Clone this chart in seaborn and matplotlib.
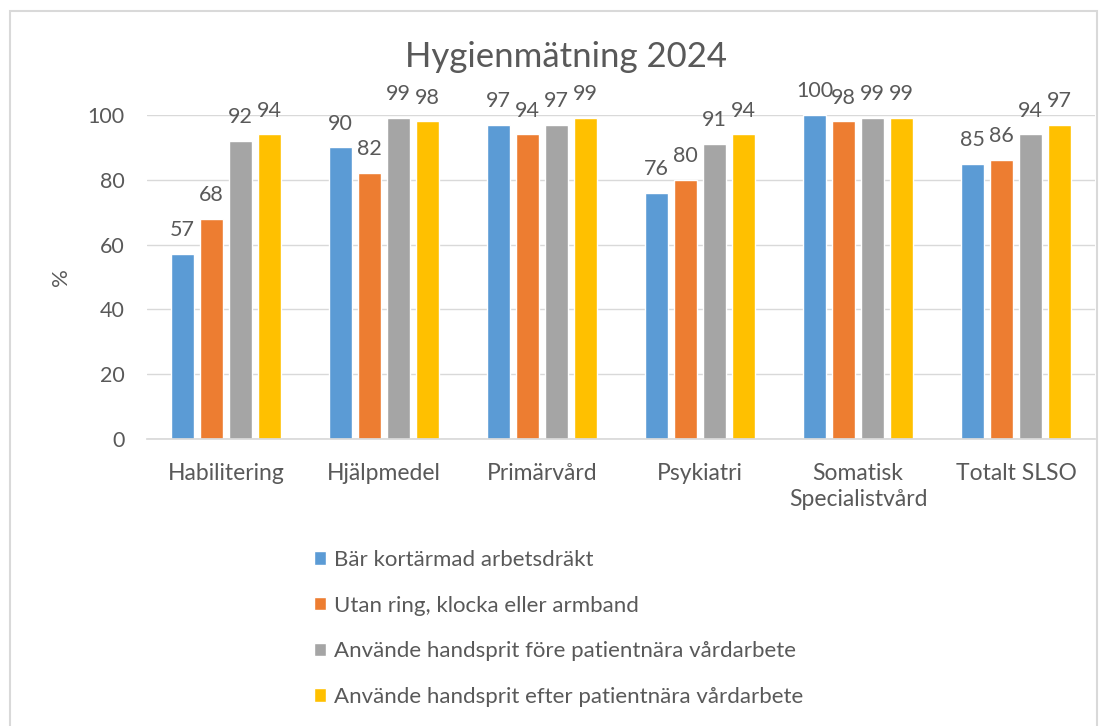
import matplotlib
matplotlib.use("Agg")
import matplotlib.pyplot as plt
import seaborn as sns
import pandas as pd
from matplotlib.patches import Rectangle

categories = ["Habilitering", "Hjälpmedel", "Primärvård", "Psykiatri",
              "Somatisk\nSpecialistvård", "Totalt SLSO"]
series = ["Bär kortärmad arbetsdräkt",
          "Utan ring, klocka eller armband",
          "Använde handsprit före patientnära vårdarbete",
          "Använde handsprit efter patientnära vårdarbete"]
kortarmad = [57, 90, 97, 76, 100, 85]
utan_ring = [68, 82, 94, 80, 98, 86]
fore = [92, 99, 97, 91, 99, 94]
efter = [94, 98, 99, 94, 99, 97]
yticks = [0, 20, 40, 60, 80, 100]
colors = ["#5B9BD5", "#ED7D31", "#A5A5A5", "#FFC000"]
title = "Hygienmätning 2024"
ylabel = "%"

values = [kortarmad, utan_ring, fore, efter]
rows = []
for s, vals in zip(series, values):
    for c, v in zip(categories, vals):
        rows.append({"Kategori": c, "Serie": s, "Värde": v})
df = pd.DataFrame(rows)

sns.set_theme(style="white")
plt.rcParams["font.family"] = ["Lato", "DejaVu Sans"]
txt = "#595959"

W, H = 1106, 726
fig = plt.figure(figsize=(W / 100, H / 100), dpi=100)
ax = fig.add_axes([147 / W, (H - 439) / H, (1095 - 147) / W, (439 - 115) / H])

sns.barplot(data=df, x="Kategori", y="Värde", hue="Serie", order=categories,
            hue_order=series, palette=colors, width=0.735, gap=0.2,
            saturation=1, ax=ax, legend=True, errorbar=None)

ax.set_ylim(0, 100)
ax.set_xlim(-0.5, len(categories) - 0.5)
ax.set_yticks(yticks)
ax.yaxis.grid(True, color="#D9D9D9", linewidth=1)
ax.set_axisbelow(True)
for sp in ["left", "right", "top"]:
    ax.spines[sp].set_visible(False)
ax.spines["bottom"].set_color("#D9D9D9")
ax.tick_params(axis="both", length=0, colors=txt)
ax.tick_params(axis="x", pad=17, labelsize=16.5)
ax.tick_params(axis="y", pad=16, labelsize=15.5)
ax.set_xlabel("")
ax.set_ylabel(ylabel, color=txt, fontsize=16, labelpad=12)
for lab in ax.get_xticklabels():
    lab.set_linespacing(1.3)

for cont in ax.containers:
    lbls = ax.bar_label(cont, padding=10, fontsize=15.5, color=txt)
    for l in lbls:
        l.set_clip_on(False)

handles, labels = ax.get_legend_handles_labels()
ax.get_legend().remove()
fig.legend(handles, labels, loc="upper left",
           bbox_to_anchor=(294 / W, 1 - 530 / H), frameon=False,
           fontsize=16, labelcolor=txt, handlelength=0.55, handleheight=0.55,
           handletextpad=0.35, labelspacing=1.15)

fig.text(566 / W, 1 - 57 / H, title, ha="center", va="center",
         fontsize=25, color=txt)

fig.patches.append(Rectangle((10 / W, -0.02), (1097 - 10) / W, 1 - 11 / H + 0.02,
                             transform=fig.transFigure, fill=False,
                             edgecolor="#D9D9D9", linewidth=1.5))

fig.savefig("out.png", dpi=100, facecolor="white")
